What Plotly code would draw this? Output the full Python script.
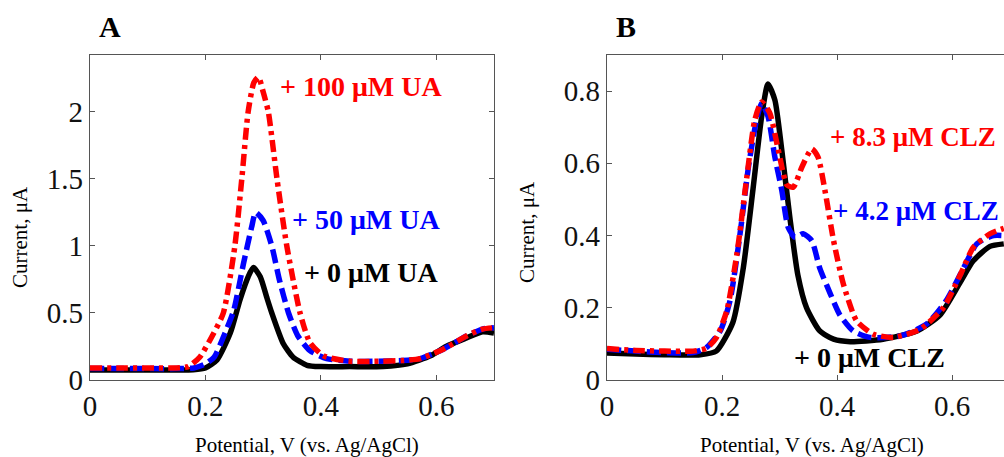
import plotly.graph_objects as go

# ---------------- Panel A data (UA) ----------------
a0_x = [0, 0.05, 0.1, 0.15, 0.179, 0.2, 0.22, 0.243, 0.26, 0.274, 0.283, 0.295, 0.306, 0.315, 0.335, 0.352, 0.376, 0.4, 0.45, 0.508, 0.55, 0.59, 0.617, 0.65, 0.68, 0.7]
a0_y = [0.075, 0.075, 0.075, 0.075, 0.077, 0.09, 0.15, 0.35, 0.6, 0.77, 0.84, 0.77, 0.62, 0.5, 0.27, 0.17, 0.11, 0.1, 0.1, 0.1, 0.12, 0.18, 0.25, 0.31, 0.36, 0.35]

a50_x = [0, 0.05, 0.1, 0.15, 0.18, 0.2, 0.215, 0.232, 0.249, 0.266, 0.28, 0.287, 0.3, 0.315, 0.328, 0.344, 0.36, 0.381, 0.41, 0.451, 0.5, 0.54, 0.572, 0.612, 0.653, 0.68, 0.7]
a50_y = [0.085, 0.085, 0.085, 0.085, 0.09, 0.12, 0.17, 0.33, 0.52, 0.87, 1.14, 1.25, 1.19, 1.0, 0.75, 0.5, 0.33, 0.22, 0.16, 0.14, 0.14, 0.145, 0.16, 0.23, 0.33, 0.38, 0.39]

a100_x = [0, 0.05, 0.1, 0.15, 0.17, 0.19, 0.212, 0.231, 0.251, 0.263, 0.274, 0.284, 0.292, 0.3, 0.309, 0.324, 0.341, 0.364, 0.381, 0.405, 0.45, 0.5, 0.54, 0.572, 0.612, 0.653, 0.68, 0.7]
a100_y = [0.09, 0.09, 0.09, 0.09, 0.1, 0.17, 0.33, 0.5, 1.0, 1.5, 2.0, 2.22, 2.26, 2.15, 2.0, 1.5, 1.0, 0.5, 0.28, 0.18, 0.14, 0.14, 0.145, 0.16, 0.23, 0.33, 0.38, 0.39]

# ---------------- Panel B data (CLZ) ----------------
b0_x = [0, 0.05, 0.1, 0.162, 0.19, 0.219, 0.237, 0.254, 0.269, 0.28, 0.292, 0.304, 0.318, 0.332, 0.347, 0.37, 0.394, 0.423, 0.48, 0.539, 0.579, 0.614, 0.637, 0.666, 0.69]
b0_y = [0.075, 0.072, 0.07, 0.07, 0.08, 0.16, 0.31, 0.53, 0.73, 0.82, 0.775, 0.636, 0.45, 0.29, 0.2, 0.136, 0.113, 0.106, 0.113, 0.136, 0.18, 0.27, 0.33, 0.37, 0.377]

b42_x = [0, 0.05, 0.1, 0.15, 0.173, 0.197, 0.214, 0.231, 0.246, 0.26, 0.269, 0.28, 0.292, 0.304, 0.315, 0.327, 0.341, 0.356, 0.37, 0.388, 0.405, 0.428, 0.457, 0.51, 0.556, 0.59, 0.62, 0.643, 0.672, 0.69]
b42_y = [0.085, 0.08, 0.076, 0.076, 0.09, 0.136, 0.22, 0.4, 0.59, 0.72, 0.766, 0.73, 0.617, 0.525, 0.423, 0.395, 0.405, 0.386, 0.31, 0.24, 0.18, 0.136, 0.118, 0.122, 0.155, 0.22, 0.31, 0.377, 0.4, 0.4]

b83_x = [0, 0.05, 0.1, 0.15, 0.173, 0.19, 0.208, 0.226, 0.243, 0.257, 0.269, 0.283, 0.298, 0.313, 0.324, 0.339, 0.356, 0.367, 0.379, 0.394, 0.411, 0.434, 0.463, 0.498, 0.544, 0.585, 0.614, 0.637, 0.666, 0.69]
b83_y = [0.087, 0.082, 0.08, 0.08, 0.088, 0.117, 0.19, 0.35, 0.56, 0.72, 0.77, 0.74, 0.636, 0.54, 0.534, 0.59, 0.64, 0.617, 0.525, 0.386, 0.266, 0.164, 0.127, 0.118, 0.14, 0.2, 0.29, 0.367, 0.405, 0.42]

x_ticks = [0, 0.2, 0.4, 0.6]
x_tick_text = ["0", "0.2", "0.4", "0.6"]
ya_ticks = [0, 0.5, 1, 1.5, 2]
ya_tick_text = ["0", "0.5", "1", "1.5", "2"]
yb_ticks = [0, 0.2, 0.4, 0.6, 0.8]
yb_tick_text = ["0", "0.2", "0.4", "0.6", "0.8"]

W, H = 1004, 457
SERIF = "Liberation Serif, Times New Roman, serif"
LW = 5.5
BLUE_DASH = "14px,6px"
RED_DASH = "12px,5px,4px,5px"

fig = go.Figure()

def add(x, y, color, dash, xa, ya):
    fig.add_trace(go.Scatter(x=x, y=y, mode="lines", xaxis=xa, yaxis=ya,
                             line=dict(color=color, width=LW, dash=dash, shape="spline", smoothing=0.6),
                             showlegend=False, hoverinfo="skip"))

add(a0_x, a0_y, "black", "solid", "x", "y")
add(a50_x, a50_y, "#0000ff", BLUE_DASH, "x", "y")
add(a100_x, a100_y, "#ff0000", RED_DASH, "x", "y")
add(b0_x, b0_y, "black", "solid", "x2", "y2")
add(b42_x, b42_y, "#0000ff", BLUE_DASH, "x2", "y2")
add(b83_x, b83_y, "#ff0000", RED_DASH, "x2", "y2")

ydom = [(H - 380) / H, (H - 55) / H]
axis_common = dict(showgrid=False, zeroline=False, showline=True, linecolor="#555", linewidth=1.3,
                   ticks="inside", ticklen=5, tickcolor="#555", tickwidth=1, automargin=False,
                   tickfont=dict(family=SERIF, size=29, color="#111"))

fig.update_layout(
    width=W, height=H, margin=dict(l=0, r=0, t=0, b=0, autoexpand=False),
    paper_bgcolor="white", plot_bgcolor="white",
    xaxis=dict(domain=[90 / W, 494 / W], range=[0, 0.7], tickvals=x_ticks, ticktext=x_tick_text,
               mirror="ticks", anchor="y", **axis_common),
    yaxis=dict(domain=ydom, range=[0, 2.425], tickvals=ya_ticks, ticktext=ya_tick_text,
               mirror="ticks", anchor="x", **axis_common),
    xaxis2=dict(domain=[607 / W, 1.0], range=[0, 0.6904], tickvals=x_ticks, ticktext=x_tick_text,
                mirror="ticks", anchor="y2", **axis_common),
    yaxis2=dict(domain=ydom, range=[0, 0.9], tickvals=yb_ticks, ticktext=yb_tick_text,
                mirror=False, anchor="x2", **axis_common),
)

def txt(x, y, s, size, color="black", bold=False, xref="paper", yref="paper", xanchor="center", angle=0):
    fig.add_annotation(x=x, y=y, xref=xref, yref=yref, text=("<b>%s</b>" % s) if bold else s,
                       showarrow=False, xanchor=xanchor, yanchor="middle", textangle=angle,
                       font=dict(family=SERIF, size=size, color=color))

# panel letters
txt(110 / W, 1 - 26 / H, "A", 30, bold=True)
txt(626 / W, 1 - 26 / H, "B", 30, bold=True)
# axis titles
txt(307 / W, 1 - 445 / H, "Potential, V (vs. Ag/AgCl)", 21)
txt(812 / W, 1 - 445 / H, "Potential, V (vs. Ag/AgCl)", 21)
txt(20 / W, 1 - 237 / H, "Current, μA", 21, angle=-90)
txt(527 / W, 1 - 232 / H, "Current, μA", 21, angle=-90)

# curve labels
txt(0.326, 2.19, "+ 100 μM UA", 28, "#ff0000", True, "x", "y", "left")
txt(0.347, 1.2, "+ 50 μM UA", 28, "#0000ff", True, "x", "y", "left")
txt(0.367, 0.8, "+ 0 μM UA", 28, "black", True, "x", "y", "left")
txt(0.385, 0.672, "+ 8.3 μM CLZ", 27, "#ff0000", True, "x2", "y2", "left")
txt(0.389, 0.467, "+ 4.2 μM CLZ", 27, "#0000ff", True, "x2", "y2", "left")
txt(0.322, 0.061, "+ 0 μM CLZ", 28, "black", True, "x2", "y2", "left")

fig.write_html("out.html", config={"displayModeBar": False, "staticPlot": True},
               post_script="document.body.style.margin='0px';document.body.style.overflow='hidden';")
